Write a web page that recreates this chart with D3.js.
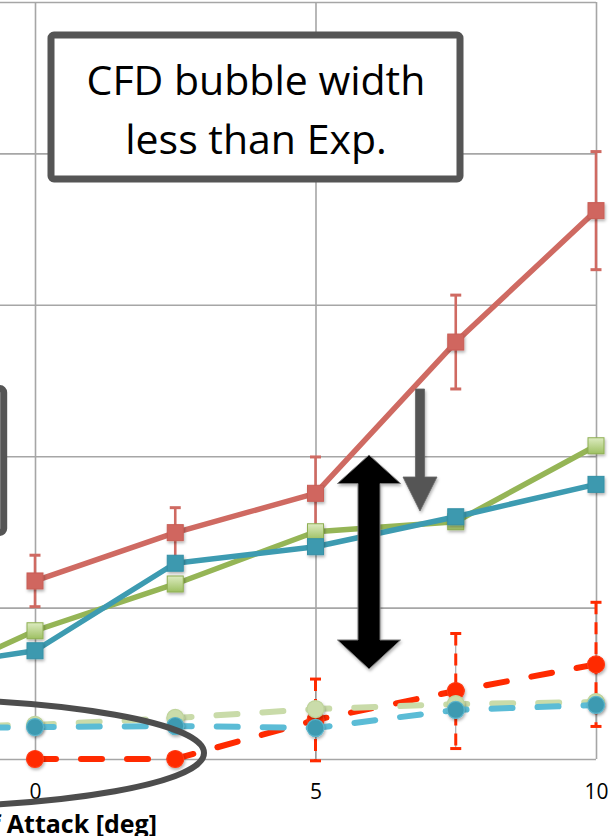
<!DOCTYPE html>
<html><head><meta charset="utf-8">
<script src="https://cdn.jsdelivr.net/npm/d3@7"></script>
<style>body{margin:0;background:#fff}svg{display:block}</style>
</head><body><svg id="c" width="616" height="836"></svg>
<script>
// ---- data ----
const angles = [-2.5, 0, 2.5, 5, 7.5, 10];
const xTicks = [0, 5, 10];
const yTicks = [0, 0.1, 0.2, 0.3, 0.4, 0.5];
const expSolid    = [null, 0.1176, 0.1495, 0.1755, 0.2754, 0.3622];
const expSolidErr = [null, 0.017, 0.0165, 0.024, 0.031, 0.039];
const greenSolid  = [0.0425, 0.0847, 0.1156, 0.1501, 0.1567, 0.2069];
const blueSolid   = [0.0575, 0.0715, 0.1293, 0.1402, 0.1600, 0.1814];
const redDashed   = [null, 0.0, 0.0, 0.0258, 0.0449, 0.0625];
const redDashedErr= [null, 0.002, 0.002, 0.027, 0.038, 0.041];
const blueDashed  = [0.0198, 0.0211, 0.0218, 0.0205, 0.0324, 0.0357];
const greenDashed = [0.0211, 0.0225, 0.0271, 0.0330, 0.0363, 0.0376];
const axisTitle = "Angle of Attack [deg]";
const noteText = ["CFD bubble width", "less than Exp."];

// ---- setup ----
const svg = d3.select("#c");
const x = d3.scaleLinear().domain([0, 10]).range([35, 596]);
const y = d3.scaleLinear().domain([0, 0.5]).range([759, 2]);
const FONT = "'Open Sans', sans-serif";

const defs = svg.append("defs");
const sh = defs.append("filter").attr("id", "sh").attr("x", "-50%").attr("y", "-50%").attr("width", "200%").attr("height", "200%");
sh.append("feDropShadow").attr("dx", 1).attr("dy", 2).attr("stdDeviation", 1.5).attr("flood-color", "#000").attr("flood-opacity", 0.3);
const gg = defs.append("linearGradient").attr("id", "gsq").attr("x1", 0).attr("y1", 0).attr("x2", 0).attr("y2", 1);
gg.append("stop").attr("offset", 0).attr("stop-color", "#DCEBC0");
gg.append("stop").attr("offset", 1).attr("stop-color", "#9EC062");

// ---- grid ----
const grid = svg.append("g");
grid.append("g").attr("transform", `translate(596,0)`)
  .call(d3.axisRight(y).tickValues(yTicks).tickSize(-(596 - x(-5))).tickFormat(""))
  .call(g => g.select(".domain").remove())
  .selectAll("line").attr("stroke", "#A6A6A6").attr("stroke-width", 1.6);
grid.append("g").attr("transform", `translate(0,759)`)
  .call(d3.axisTop(x).tickValues(xTicks).tickSize(757).tickFormat(""))
  .call(g => g.select(".domain").remove())
  .selectAll("line").attr("stroke", "#A6A6A6").attr("stroke-width", 1.6);

// x axis labels
const xa = svg.append("g").attr("transform", `translate(0,759)`)
  .call(d3.axisBottom(x).tickValues(xTicks).tickSize(0).tickPadding(25).tickFormat(d3.format("d")));
xa.select(".domain").remove();
xa.selectAll("text").attr("font-family", FONT).attr("font-size", 21).attr("fill", "#000");

svg.append("text").attr("x", 157).attr("y", 833).attr("text-anchor", "end")
  .attr("font-family", FONT).attr("font-weight", 700).attr("font-size", 25).text(axisTitle);

// left partial callout box
svg.append("rect").attr("x", -400).attr("y", 388.5).attr("width", 403.7).attr("height", 144)
  .attr("rx", 4).attr("fill", "#fff").attr("stroke", "#555").attr("stroke-width", 7);

// ---- series helpers ----
function pts(vals) { return angles.map((a, i) => ({a, v: vals[i], i})).filter(d => d.v !== null); }
const line = d3.line().x(d => x(d.a)).y(d => y(d.v));
const data = svg.append("g");

function dashedSeries(vals, color, width) {
  data.append("path").datum(pts(vals)).attr("d", line).attr("fill", "none")
    .attr("stroke", color).attr("stroke-width", width).attr("stroke-dasharray", "21 25")
    .attr("stroke-linecap", "round");
}
function errBars(vals, errs, color, dashed) {
  const p = pts(vals).filter(d => errs[d.i] > 0.005);
  const g = data.append("g");
  if (dashed) {
    g.selectAll("line.t").data(p).join("line")
      .attr("x1", d => x(d.a)).attr("x2", d => x(d.a))
      .attr("y1", d => y(d.v + errs[d.i])).attr("y2", d => y(d.v - errs[d.i]))
      .attr("stroke", "#999").attr("stroke-width", 1);
  }
  g.selectAll("line.v").data(p).join("line")
    .attr("x1", d => x(d.a)).attr("x2", d => x(d.a))
    .attr("y1", d => y(d.v + errs[d.i])).attr("y2", d => y(d.v - errs[d.i]))
    .attr("stroke", color).attr("stroke-width", dashed ? 3 : 2.6)
    .attr("stroke-dasharray", dashed ? "12 8" : null);
  [1, -1].forEach(s => {
    g.selectAll("line.c" + s).data(p).join("line")
      .attr("x1", d => x(d.a) - 5.5).attr("x2", d => x(d.a) + 5.5)
      .attr("y1", d => y(d.v + s * errs[d.i])).attr("y2", d => y(d.v + s * errs[d.i]))
      .attr("stroke", color).attr("stroke-width", 3);
  });
}
function circles(vals, fill, stroke, r) {
  data.append("g").selectAll("circle").data(pts(vals)).join("circle")
    .attr("cx", d => x(d.a)).attr("cy", d => y(d.v)).attr("r", r)
    .attr("fill", fill).attr("stroke", stroke).attr("stroke-width", 1.2).attr("filter", "url(#sh)");
}
function solidSeries(vals, color, width) {
  data.append("path").datum(pts(vals)).attr("d", line).attr("fill", "none")
    .attr("stroke", color).attr("stroke-width", width).attr("stroke-linejoin", "round");
}
function squares(vals, fill, stroke, s) {
  data.append("g").selectAll("rect").data(pts(vals)).join("rect")
    .attr("x", d => x(d.a) - s / 2).attr("y", d => y(d.v) - s / 2).attr("width", s).attr("height", s)
    .attr("fill", fill).attr("stroke", stroke).attr("stroke-width", 1).attr("filter", "url(#sh)");
}

// dashed (CFD) series
dashedSeries(redDashed, "#FF2A00", 6);
errBars(redDashed, redDashedErr, "#FF2A00", true);
circles(redDashed, "#FF2A00", "#FF3B14", 8.5);
dashedSeries(greenDashed, "#C9DBA9", 6);
circles(greenDashed, "#CADCAA", "#BFD49C", 8.5);
dashedSeries(blueDashed, "#5BBCD6", 6);
circles(blueDashed, "#3E9AB1", "#5BB5CC", 8.5);

// solid series
solidSeries(expSolid, "#CF6A62", 5.5);
errBars(expSolid, expSolidErr, "#CF6A62", false);
squares(expSolid, "#D0665E", "#C85E56", 16);
solidSeries(greenSolid, "#95B556", 5.5);
squares(greenSolid, "url(#gsq)", "#8EAF52", 16);
solidSeries(blueSolid, "#3D9BB1", 5.5);
squares(blueSolid, "#3C99AF", "#3590A6", 16);

// ---- annotations ----
svg.append("path")
  .attr("d", "M415.5,389 L424.5,389 L424.5,477 L437,477 L420,511 L403,477 L415.5,477 Z")
  .attr("fill", "#555").attr("stroke", "#666").attr("stroke-width", 0.8).attr("filter", "url(#sh)");
svg.append("path")
  .attr("d", "M369,455 L400.5,483.5 L380,483.5 L380,640 L400.5,640 L369,669 L337.5,640 L358,640 L358,483.5 L337.5,483.5 Z")
  .attr("fill", "#000").attr("stroke", "#777").attr("stroke-width", 1).attr("filter", "url(#sh)");

svg.append("ellipse").attr("cx", -100).attr("cy", 753).attr("rx", 304).attr("ry", 54)
  .attr("fill", "none").attr("stroke", "#4D4D4D").attr("stroke-width", 6);

svg.append("rect").attr("x", 51).attr("y", 35).attr("width", 409).attr("height", 144)
  .attr("rx", 3).attr("fill", "#fff").attr("stroke", "#555").attr("stroke-width", 7);
svg.append("g").selectAll("text").data(noteText).join("text")
  .attr("x", 256).attr("y", (d, i) => 95 + i * 59).attr("text-anchor", "middle")
  .attr("font-family", FONT).attr("font-size", 41).attr("fill", "#000").text(d => d);
</script></body></html>
